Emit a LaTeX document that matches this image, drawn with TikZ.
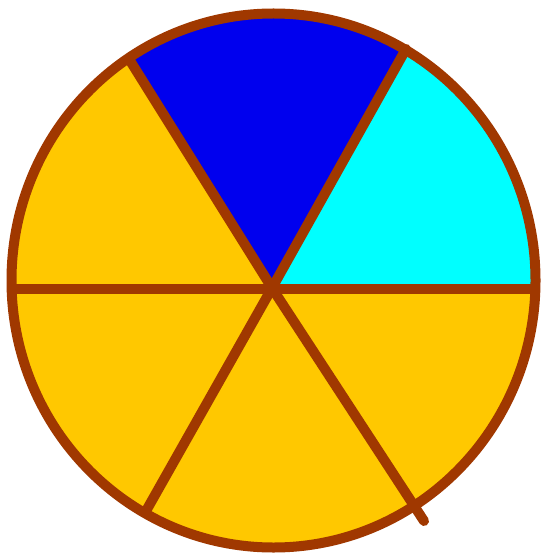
\documentclass[tikz,border=0pt]{standalone}
\usetikzlibrary{calc}
\definecolor{rim}{RGB}{160,56,0}
\definecolor{gold}{RGB}{255,200,0}
\definecolor{deepblue}{RGB}{0,0,238}
\definecolor{aqua}{RGB}{0,255,255}
\begin{document}
\begin{tikzpicture}[x=1pt,y=-1pt,
  spoke/.style={draw=rim,line width=10pt,line cap=round},
  rimline/.style={draw=rim,line width=10pt}]
\useasboundingbox[fill=white] (0,0) rectangle (543,553);
\coordinate (c) at (272,288);
\coordinate (ul) at (129,59);
\coordinate (ur) at (406,49);
\coordinate (l) at (12,289);
\coordinate (r) at (535,289);
\coordinate (bl) at (146,511);
\coordinate (br) at (424,521);
\coordinate (o) at (273.5,280.5);
\fill[gold] (o) ellipse [x radius=262, y radius=267];
\begin{scope}
  \clip (o) ellipse [x radius=262, y radius=267];
  \fill[deepblue] (c) -- ($(c)!1.6!(ul)$) -- ($(c)!1.6!(ur)$) -- cycle;
  \fill[aqua] (c) -- ($(c)!1.6!(ur)$) -- (600,-100) -- (600,289) -- cycle;
\end{scope}
\draw[spoke] (c) -- (ul);
\draw[spoke] (c) -- (ur);
\draw[spoke] (c) -- (bl);
\draw[spoke] (c) -- (br);
\draw[spoke,line cap=butt] (l) -- (r);
\draw[rimline] (o) ellipse [x radius=262, y radius=267];
\end{tikzpicture}
\end{document}
